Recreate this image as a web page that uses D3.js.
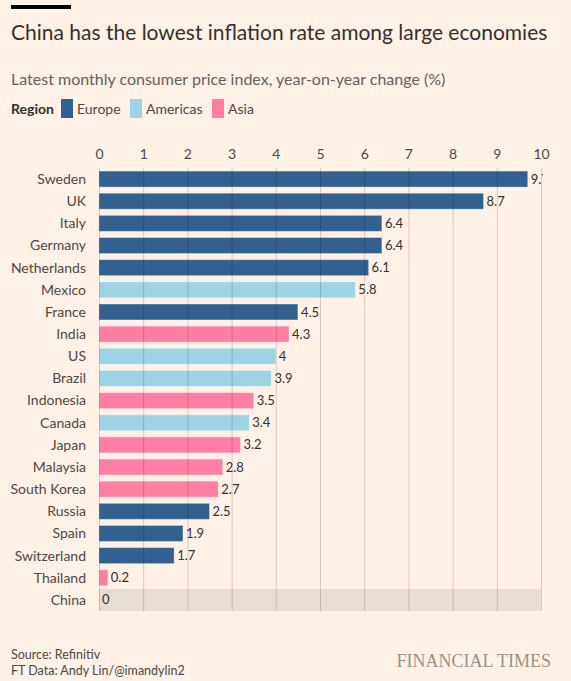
<!DOCTYPE html>
<html>
<head>
<meta charset="utf-8">
<script src="https://cdn.jsdelivr.net/npm/d3@7"></script>
<style>
  body { margin: 0; background: #fff1e5; }
  svg { display: block; font-family: Lato, "Open Sans", sans-serif; }
</style>
</head>
<body>
<svg id="chart" width="571" height="681"></svg>
<script>
const countries = ['Sweden', 'UK', 'Italy', 'Germany', 'Netherlands', 'Mexico', 'France', 'India', 'US', 'Brazil',
  'Indonesia', 'Canada', 'Japan', 'Malaysia', 'South Korea', 'Russia', 'Spain', 'Switzerland', 'Thailand', 'China']
const values = [9.7, 8.7, 6.4, 6.4, 6.1, 5.8, 4.5, 4.3, 4, 3.9, 3.5, 3.4, 3.2, 2.8, 2.7, 2.5, 1.9, 1.7, 0.2, 0]
const regions = ['Europe', 'Europe', 'Europe', 'Europe', 'Europe', 'Americas', 'Europe', 'Asia', 'Americas', 'Americas',
  'Asia', 'Americas', 'Asia', 'Asia', 'Asia', 'Europe', 'Europe', 'Europe', 'Asia', 'Asia']
const regionNames = ['Europe', 'Americas', 'Asia']
const regionColors = ['#33618f', '#9dd4e5', '#ff7fa4']
const xTicks = [0, 1, 2, 3, 4, 5, 6, 7, 8, 9, 10]
const highlight = 'China'

const svg = d3.select('#chart')
const M_LEFT = 99, M_RIGHT = 541, M_TOP = 168, M_BOTTOM = 611

const data = countries.map((c, i) => ({ name: c, value: values[i], region: regions[i] }))

const x = d3.scaleLinear().domain([0, 10]).range([M_LEFT, M_RIGHT])
const y = d3.scaleBand().domain(countries).range([M_TOP, M_BOTTOM]).paddingInner(0)
const color = d3.scaleOrdinal().domain(regionNames).range(regionColors)
const barH = 16

// header
svg.append('rect').attr('x', 11).attr('y', 5).attr('width', 60).attr('height', 4).attr('fill', '#000')
svg.append('text').text('China has the lowest inflation rate among large economies')
  .attr('x', 11).attr('y', 40).attr('fill', '#33302e').style('font-size', '21px')
svg.append('text').text('Latest monthly consumer price index, year-on-year change (%)')
  .attr('x', 11).attr('y', 85).attr('fill', '#66605c').style('font-size', '16px')

// legend
const lg = svg.append('g').attr('transform', 'translate(11,114)')
lg.append('text').text('Region').attr('fill', '#33302e').style('font-size', '14px').style('font-weight', 'bold')
const legendX = [50, 119, 201]
regionNames.forEach((r, i) => {
  lg.append('rect').attr('x', legendX[i]).attr('y', -15).attr('width', 12).attr('height', 19).attr('fill', color(r))
  lg.append('text').text(r).attr('x', legendX[i] + 16).attr('fill', '#4d4845').style('font-size', '14px')
})

// highlight band
svg.append('rect')
  .attr('x', M_LEFT).attr('y', y(highlight))
  .attr('width', M_RIGHT - M_LEFT).attr('height', y.bandwidth())
  .attr('fill', '#e9ddd3')

// bars
svg.append('g').selectAll('rect').data(data).join('rect')
  .attr('x', x(0))
  .attr('y', d => y(d.name) + (y.bandwidth() - barH) / 2)
  .attr('width', d => x(d.value) - x(0))
  .attr('height', barH)
  .attr('fill', d => color(d.region))
  .attr('stroke', 'rgba(255,255,255,0.35)')
  .attr('stroke-width', 1)

// gridlines on top
const axisX = d3.axisTop(x).tickValues(xTicks).tickFormat(d3.format('d')).tickSize(-(M_BOTTOM - M_TOP))
svg.append('g').attr('transform', `translate(0,${M_TOP})`).call(axisX)
  .call(g => g.select('.domain').remove())
  .call(g => g.selectAll('.tick line').attr('stroke', '#000').attr('stroke-opacity', 0.16))
  .call(g => g.selectAll('.tick text').attr('y', -9).attr('fill', '#4d4845')
    .style('font-size', '14px').style('font-family', 'Lato, sans-serif'))

// category labels
svg.append('g').selectAll('text').data(data).join('text')
  .attr('x', 86).attr('y', d => y(d.name) + y.bandwidth() / 2)
  .attr('dy', '0.35em').attr('text-anchor', 'end')
  .attr('fill', '#4d4845').style('font-size', '14px')
  .text(d => d.name)

// value labels, clipped at the chart edge
svg.append('clipPath').attr('id', 'clip').append('rect')
  .attr('x', 0).attr('y', 0).attr('width', M_RIGHT + 2).attr('height', 681)
svg.append('g').attr('clip-path', 'url(#clip)').selectAll('text').data(data).join('text')
  .attr('x', d => x(d.value) + 3).attr('y', d => y(d.name) + y.bandwidth() / 2)
  .attr('dy', '0.35em').attr('fill', '#33302e').style('font-size', '13px')
  .text(d => d.value)

// footer
svg.append('text').text('Source: Refinitiv').attr('x', 11).attr('y', 659)
  .attr('fill', '#4d4845').style('font-size', '12.5px')
svg.append('text').text('FT Data: Andy Lin/@imandylin2').attr('x', 11).attr('y', 675)
  .attr('fill', '#4d4845').style('font-size', '12.5px')
svg.append('text').text('FINANCIAL TIMES').attr('x', 551).attr('y', 667)
  .attr('text-anchor', 'end').attr('fill', '#99918b')
  .style('font-family', '"Liberation Serif", serif').style('font-size', '18px')
</script>
</body>
</html>
